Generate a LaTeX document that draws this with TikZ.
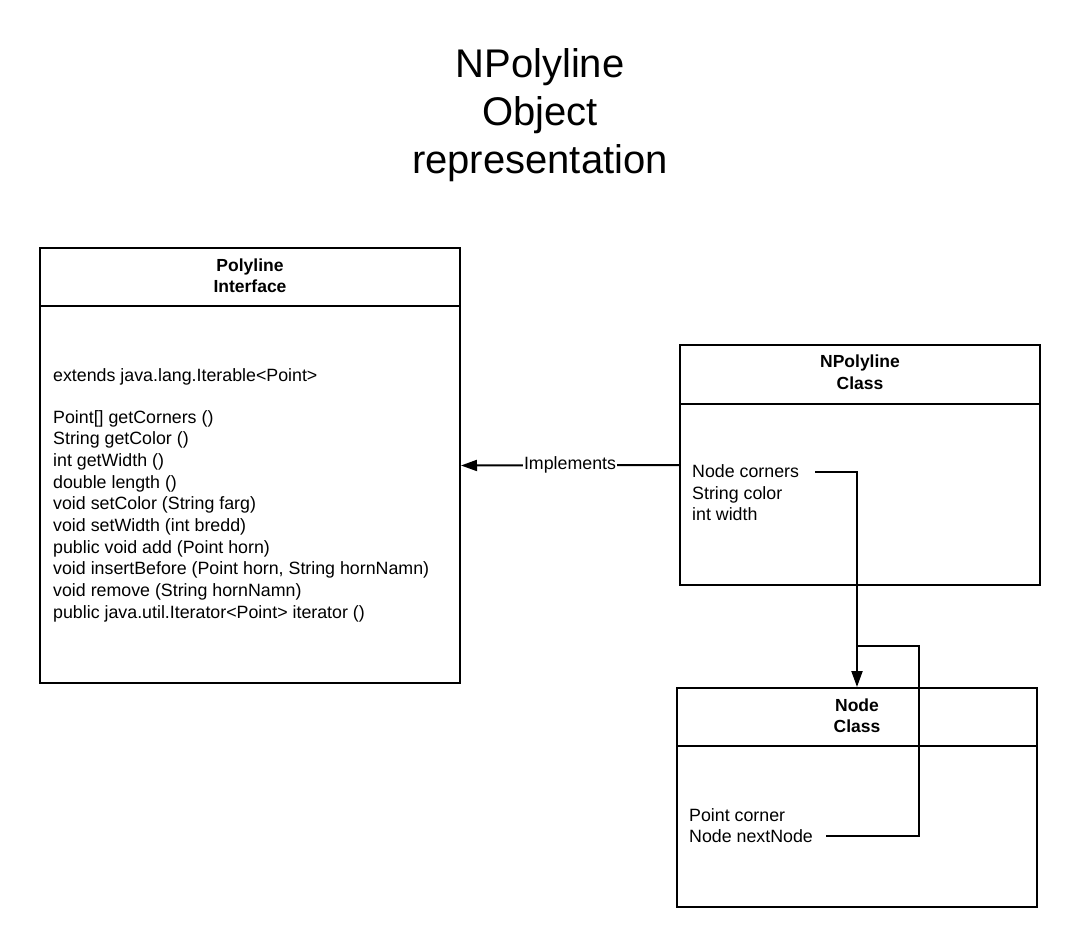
\documentclass[tikz,border=0pt]{standalone}
\usepackage{fontspec}
\setmainfont{Liberation Sans}
\usetikzlibrary{arrows.meta}
\begin{document}
\begin{tikzpicture}[x=1pt,y=-1pt,
  box/.style={draw,line width=2pt,rectangle,inner sep=0pt},
  hdr/.style={font=\fontsize{17.5}{19}\selectfont\bfseries,anchor=base,inner sep=0pt},
  memb/.style={font=\fontsize{17.8}{19}\selectfont,anchor=base west,inner sep=0pt},
  conn/.style={line width=2pt},
  tip/.style={-{Triangle[length=16pt,width=11pt]}}]
\useasboundingbox (0,0) rectangle (1080,947);
% title
\node[font=\fontsize{40}{48}\selectfont,anchor=base] (t1) at (540,78) {NPolyline};
\node[font=\fontsize{40}{48}\selectfont,anchor=base] (t2) at (540,126) {Object};
\node[font=\fontsize{40}{48}\selectfont,anchor=base] (t3) at (540,174) {representation};
% boxes
\node[box,minimum width=420pt,minimum height=435pt] (poly) at (250,465.5) {};
\draw[conn] (40,306) -- (460,306);
\node[box,minimum width=360pt,minimum height=240pt] (npoly) at (860,465) {};
\draw[conn] (680,404) -- (1040,404);
\node[box,minimum width=360pt,minimum height=219pt] (nodeb) at (857,797.5) {};
\draw[conn] (677,746) -- (1037,746);
% headers
\node[hdr] (ph1) at (250,271) {Polyline};
\node[hdr] (ph2) at (250,292) {Interface};
\node[hdr] (nh1) at (860,367) {NPolyline};
\node[hdr] (nh2) at (860,389) {Class};
\node[hdr] (dh1) at (857,711) {Node};
\node[hdr] (dh2) at (857,732) {Class};
% polyline members
\node[memb] (pm0) at (53,381) {extends java.lang.Iterable<Point>};
\foreach \t [count=\i] in {{Point[] getCorners ()},{String getColor ()},{int getWidth ()},{double length ()},{void setColor (String farg)},{void setWidth (int bredd)},{public void add (Point horn)},{void insertBefore (Point horn, String hornNamn)},{void remove (String hornNamn)},{public java.util.Iterator<Point> iterator ()}}
  \node[memb,name=pm\i] at (53,{423+21.7*(\i-1)}) {\t};
% npolyline members
\node[memb] (nc) at (692,477) {Node corners};
\node[memb] (ncol) at (692,499) {String color};
\node[memb] (nw) at (692,520) {int width};
% node members
\node[memb] (dc) at (689,821) {Point corner};
\node[memb] (dn) at (689,842) {Node nextNode};
% connectors
\draw[conn,tip] (npoly.west) -- node[fill=white,inner sep=1pt,font=\fontsize{17.8}{19}\selectfont] (impl) {Implements} (poly.east);
\coordinate (cs) at (815,472);
\draw[conn,tip] (cs) -| (nodeb.north);
\coordinate (ns) at (826,836);
\coordinate (ne) at (856,646);
\draw[conn] (ns) -- (919,836) -- (919,646) -- (ne);
\end{tikzpicture}
\end{document}
